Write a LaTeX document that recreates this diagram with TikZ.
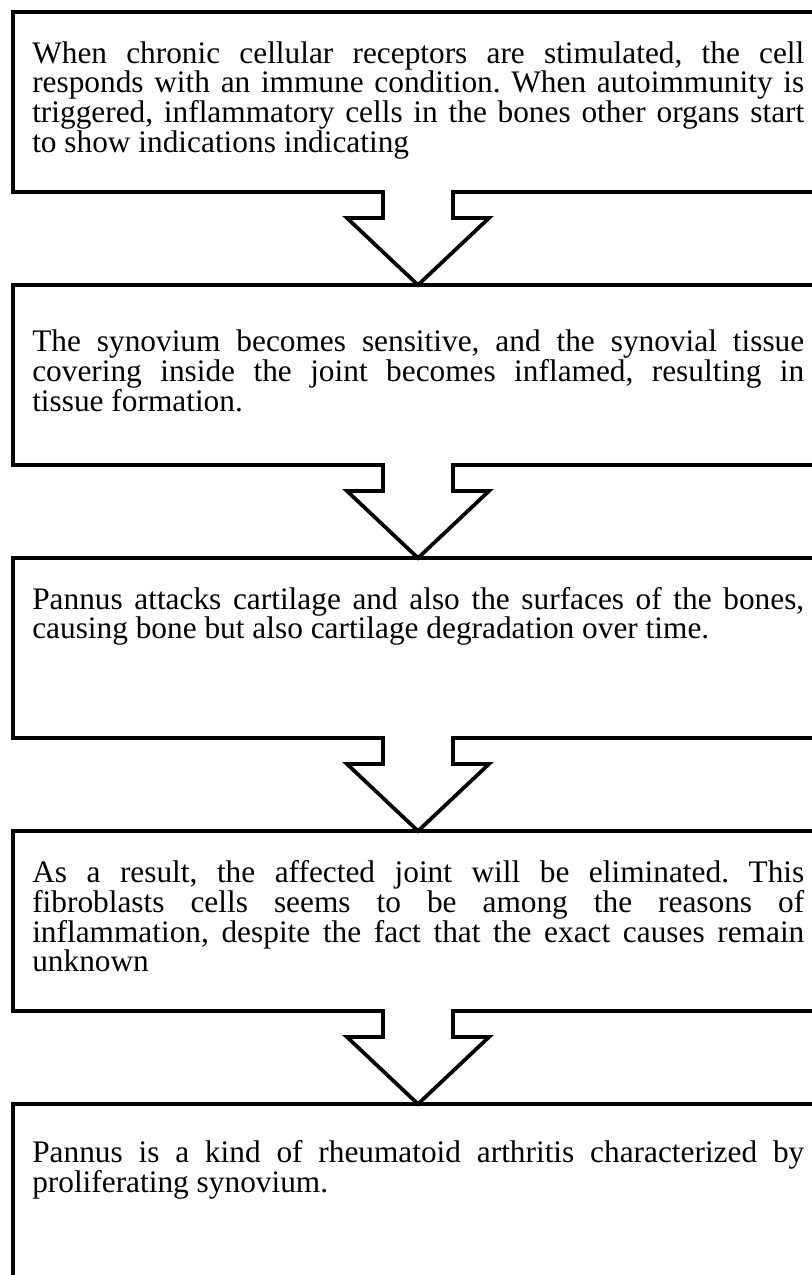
\documentclass[tikz,border=0pt]{standalone}
\usepackage{fontspec}
\setmainfont{Liberation Serif}
\usepackage{tikz}
\usetikzlibrary{positioning, calc}
\tolerance=10000
\hbadness=10000
\frenchspacing

\begin{document}
\begin{tikzpicture}[
  x=0.75pt, y=-0.75pt,
  node distance=69.75pt,
  stepbox/.style={rectangle, draw, line width=2.8pt, outer sep=0pt, minimum width=607.5pt, minimum height=135pt},
  steptext/.style={anchor=base west, inner sep=0pt, text width=579pt, align=justify, font=\fontsize{23.5pt}{21pt}\selectfont},
  blockarr/.style={draw, fill=white, line width=2.8pt, to path={
      ($(\tikztostart)+(-35,-2)$) -- ($(\tikztostart)+(-35,26)$) -- ($(\tikztostart)+(-71,26)$)
      -- (\tikztotarget)
      -- ($(\tikztostart)+(71,26)$) -- ($(\tikztostart)+(35,26)$) -- ($(\tikztostart)+(35,-2)$)}},
]
\useasboundingbox (0,0) rectangle (812,1275);
\clip (0,0) rectangle (812,1275);

% Frames
\node[stepbox, anchor=north west] (stim) at (13,12) {};
\node[stepbox, below=of stim] (syn) {};
\node[stepbox, below=of syn] (pan) {};
\node[stepbox, below=of pan] (fib) {};
\node[stepbox, below=of fib] (prolif) {};

% Texts
\node[steptext] (stimtxt) at ($(stim.north west)+(19,51)$) {When chronic cellular receptors are stimulated, the cell\linebreak responds with an immune condition. When autoimmunity is\linebreak triggered, inflammatory cells in the bones other organs start\linebreak to show indications indicating};
\node[steptext] (syntxt) at ($(syn.north west)+(19,66)$) {The synovium becomes sensitive, and the synovial tissue\linebreak covering inside the joint becomes inflamed, resulting in\linebreak tissue formation.};
\node[steptext] (pantxt) at ($(pan.north west)+(19,51)$) {Pannus attacks cartilage and also the surfaces of the bones,\linebreak causing bone but also cartilage degradation over time.};
\node[steptext] (fibtxt) at ($(fib.north west)+(19,51)$) {As a result, the affected joint will be eliminated. This\linebreak fibroblasts cells seems to be among the reasons of\linebreak inflammation, despite the fact that the exact causes remain\linebreak unknown};
\node[steptext] (prolitxt) at ($(prolif.north west)+(19,58)$) {Pannus is a kind of rheumatoid arthritis characterized by\linebreak proliferating synovium.};

% Arrows
\draw[blockarr] (stim.south) to (syn.north);
\draw[blockarr] (syn.south) to (pan.north);
\draw[blockarr] (pan.south) to (fib.north);
\draw[blockarr] (fib.south) to (prolif.north);

\end{tikzpicture}
\end{document}
